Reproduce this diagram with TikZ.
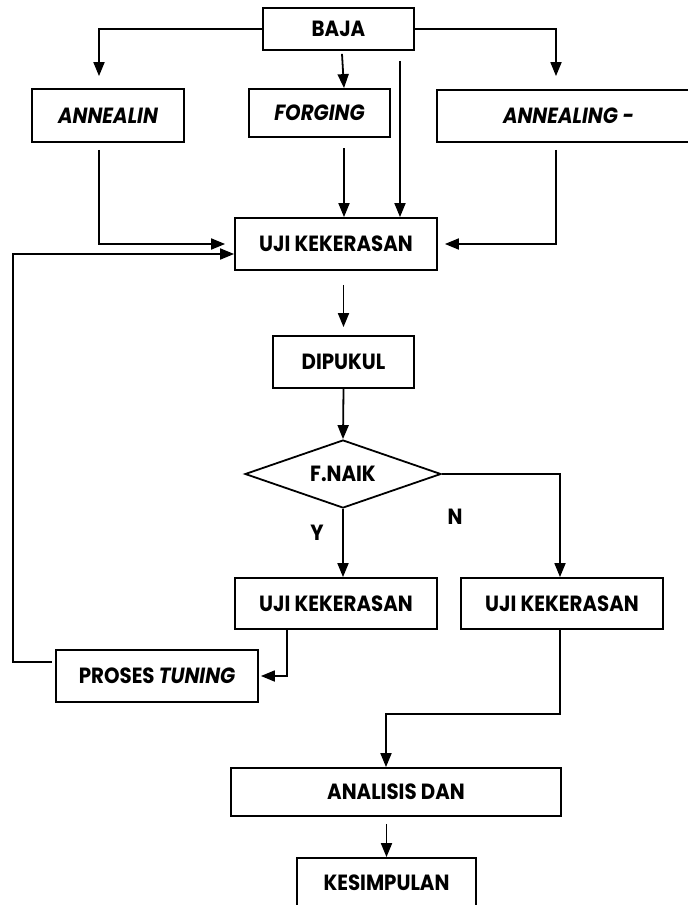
\documentclass[tikz,border=0pt]{standalone}
\usepackage{fontspec}
\setmainfont{Poppins}[FakeStretch=0.9]
\usetikzlibrary{arrows.meta,shapes.geometric,calc}
\begin{document}
\begin{tikzpicture}[x=1pt,y=-1pt,
  box/.style={draw,line width=1.8pt,rectangle,inner sep=0pt,font=\fontsize{22}{26}\selectfont\bfseries},
  lbl/.style={inner sep=0pt,font=\fontsize{22}{26}\selectfont\bfseries},
  arr/.style={line width=1.8pt,-{Triangle[length=14pt,width=11pt]}},
  ln/.style={line width=1.8pt}]
\useasboundingbox (0,0) rectangle (688,905);
\clip (0,0) rectangle (688,905);
% nodes
\node[box,minimum width=151pt,minimum height=42pt] (baja) at (338.5,29) {BAJA};
\node[box,minimum width=152pt,minimum height=53pt] (annealin) at (108,115.5) {\itshape ANNEALIN};
\node[box,minimum width=141pt,minimum height=48pt] (forging) at (319.5,113) {\itshape FORGING};
\node[box,minimum width=263pt,minimum height=52pt] (annealing) at (568.5,116) {\itshape ANNEALING -};
\node[box,minimum width=202pt,minimum height=52pt] (uji1) at (336,244) {UJI KEKERASAN};
\node[box,minimum width=141pt,minimum height=52pt] (dipukul) at (343.5,362) {DIPUKUL};
\node[box,diamond,minimum width=196pt,minimum height=68pt,aspect=2.88] (fnaik) at (343,474) {F.NAIK};
\node[box,minimum width=202pt,minimum height=51pt] (uji2) at (336,603.5) {UJI KEKERASAN};
\node[box,minimum width=202pt,minimum height=51pt] (uji3) at (562,603.5) {UJI KEKERASAN};
\node[box,minimum width=202pt,minimum height=52pt] (proses) at (157,676) {PROSES \textit{TUNING}};
\node[box,minimum width=330pt,minimum height=48pt] (analisis) at (396,792) {ANALISIS DAN};
\node[box,minimum width=179pt,minimum height=50pt] (kesimpulan) at (386.5,883) {KESIMPULAN};
\node[lbl] (y) at (317,533) {Y};
\node[lbl] (n) at (455,517) {N};
% connectors
\draw[arr,shorten >=12pt] (baja.west) -| ($(annealin.north)+(-9,0)$);
\draw[arr,shorten >=13pt] (baja.east) -| ($(annealing.north)+(-12.5,0)$);
\draw[arr] ($(baja.south)+(3.5,3)$) -- ($(forging.north)+(24.5,0)$);
\draw[arr] ($(baja.south)+(61.5,10)$) -- ($(uji1.north)+(64,0)$);
\draw[arr] ($(forging.north)+(24.5,0)$) ++(0,12+48) coordinate (fs) -- (fs |- uji1.north);
\draw[arr,shorten >=9pt] ($(annealin.south)+(-9,7)$) |- (uji1.west);
\draw[arr,shorten >=7pt] ($(annealing.south)+(-12.5,7)$) |- (uji1.east);
\draw[arr,shorten <=14pt,shorten >=8pt] (dipukul.north |- uji1.south) -- (dipukul.north);
\draw[arr] (dipukul.south) -- (fnaik.north);
\draw[arr] (fnaik.east) -| ($(uji3.north)+(-2,0)$);
\draw[arr] (fnaik.south) -- (fnaik.south |- uji2.north);
\draw[arr,shorten >=2pt] ($(uji2.south)+(-49,0)$) |- (proses.east);
\draw[arr] ($(proses.west)+(-3,-14)$) -- ++(-39,0) |- ($(uji1.west)+(0,10)$);
\draw[arr] ($(uji3.south)+(-2,0)$) |- ($(analisis.north)+(-10,-53)$) -- ($(analisis.north)+(-10,0)$);
\draw[arr,shorten <=7pt] (kesimpulan.north |- analisis.south) -- (kesimpulan.north);
\end{tikzpicture}
\end{document}
